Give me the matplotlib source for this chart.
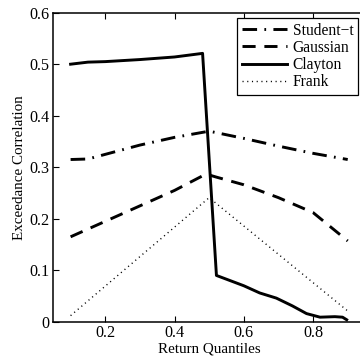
import matplotlib
matplotlib.use('Agg')
from matplotlib import pyplot as plt

# data
x_t = [0.1, 0.15, 0.2, 0.3, 0.4, 0.5, 0.6, 0.7, 0.8, 0.9]
student_t = [0.315, 0.316, 0.325, 0.343, 0.358, 0.370, 0.356, 0.341, 0.327, 0.315]

x_g = [0.1, 0.2, 0.3, 0.4, 0.48, 0.5, 0.52, 0.6, 0.7, 0.8, 0.9]
gaussian = [0.165, 0.195, 0.225, 0.255, 0.283, 0.285, 0.281, 0.266, 0.241, 0.212, 0.157]

x_c = [0.1, 0.15, 0.2, 0.3, 0.4, 0.481, 0.521, 0.6, 0.646, 0.694, 0.74, 0.781, 0.82, 0.863, 0.885, 0.897]
clayton = [0.500, 0.504, 0.505, 0.509, 0.514, 0.521, 0.090, 0.070, 0.056, 0.046, 0.031, 0.016, 0.009, 0.010, 0.009, 0.004]

x_f = [0.1, 0.5, 0.9]
frank = [0.012, 0.241, 0.021]

plt.rcParams['font.family'] = ['Liberation Serif', 'DejaVu Serif']

fig = plt.figure(figsize=(3.6, 3.62), dpi=100)
ax = fig.add_axes([0.148, 0.111, 0.866, 0.854])

ax.plot(x_t, student_t, color='k', lw=2.1, dashes=(5, 2.5, 0.6, 2.5), label='Student\u2212t')
ax.plot(x_g, gaussian, color='k', lw=2.1, dashes=(4.5, 3), label='Gaussian')
ax.plot(x_c, clayton, color='k', lw=2.1, label='Clayton')
ax.plot(x_f, frank, color='k', lw=1.0, dashes=(0.8, 2.6), label='Frank')

ax.set_xlim(0.05, 0.95)
ax.set_ylim(0, 0.6)
ax.set_xticks([0.2, 0.4, 0.6, 0.8])
ax.set_yticks([0, 0.1, 0.2, 0.3, 0.4, 0.5, 0.6])
ax.set_yticklabels(['0', '0.1', '0.2', '0.3', '0.4', '0.5', '0.6'])
ax.tick_params(direction='in', top=True, right=False, length=4, width=0.8,
               labelsize=11.6, pad=2.5)
for s in ax.spines.values():
    s.set_linewidth(1.1)

ax.set_xlabel('Return Quantiles', fontsize=10.8, labelpad=1)
ax.set_ylabel('Exceedance Correlation', fontsize=10.8, labelpad=3)

leg = ax.legend(loc='upper right', bbox_to_anchor=(358 / 360, 1 - 18 / 362),
                bbox_transform=fig.transFigure, fancybox=False, framealpha=1,
                edgecolor='k', handlelength=2.9, handletextpad=0.35,
                borderpad=0.3, labelspacing=0.08, borderaxespad=0, fontsize=11.2)
leg.get_frame().set_linewidth(0.9)

fig.savefig('out.png', dpi=100)
